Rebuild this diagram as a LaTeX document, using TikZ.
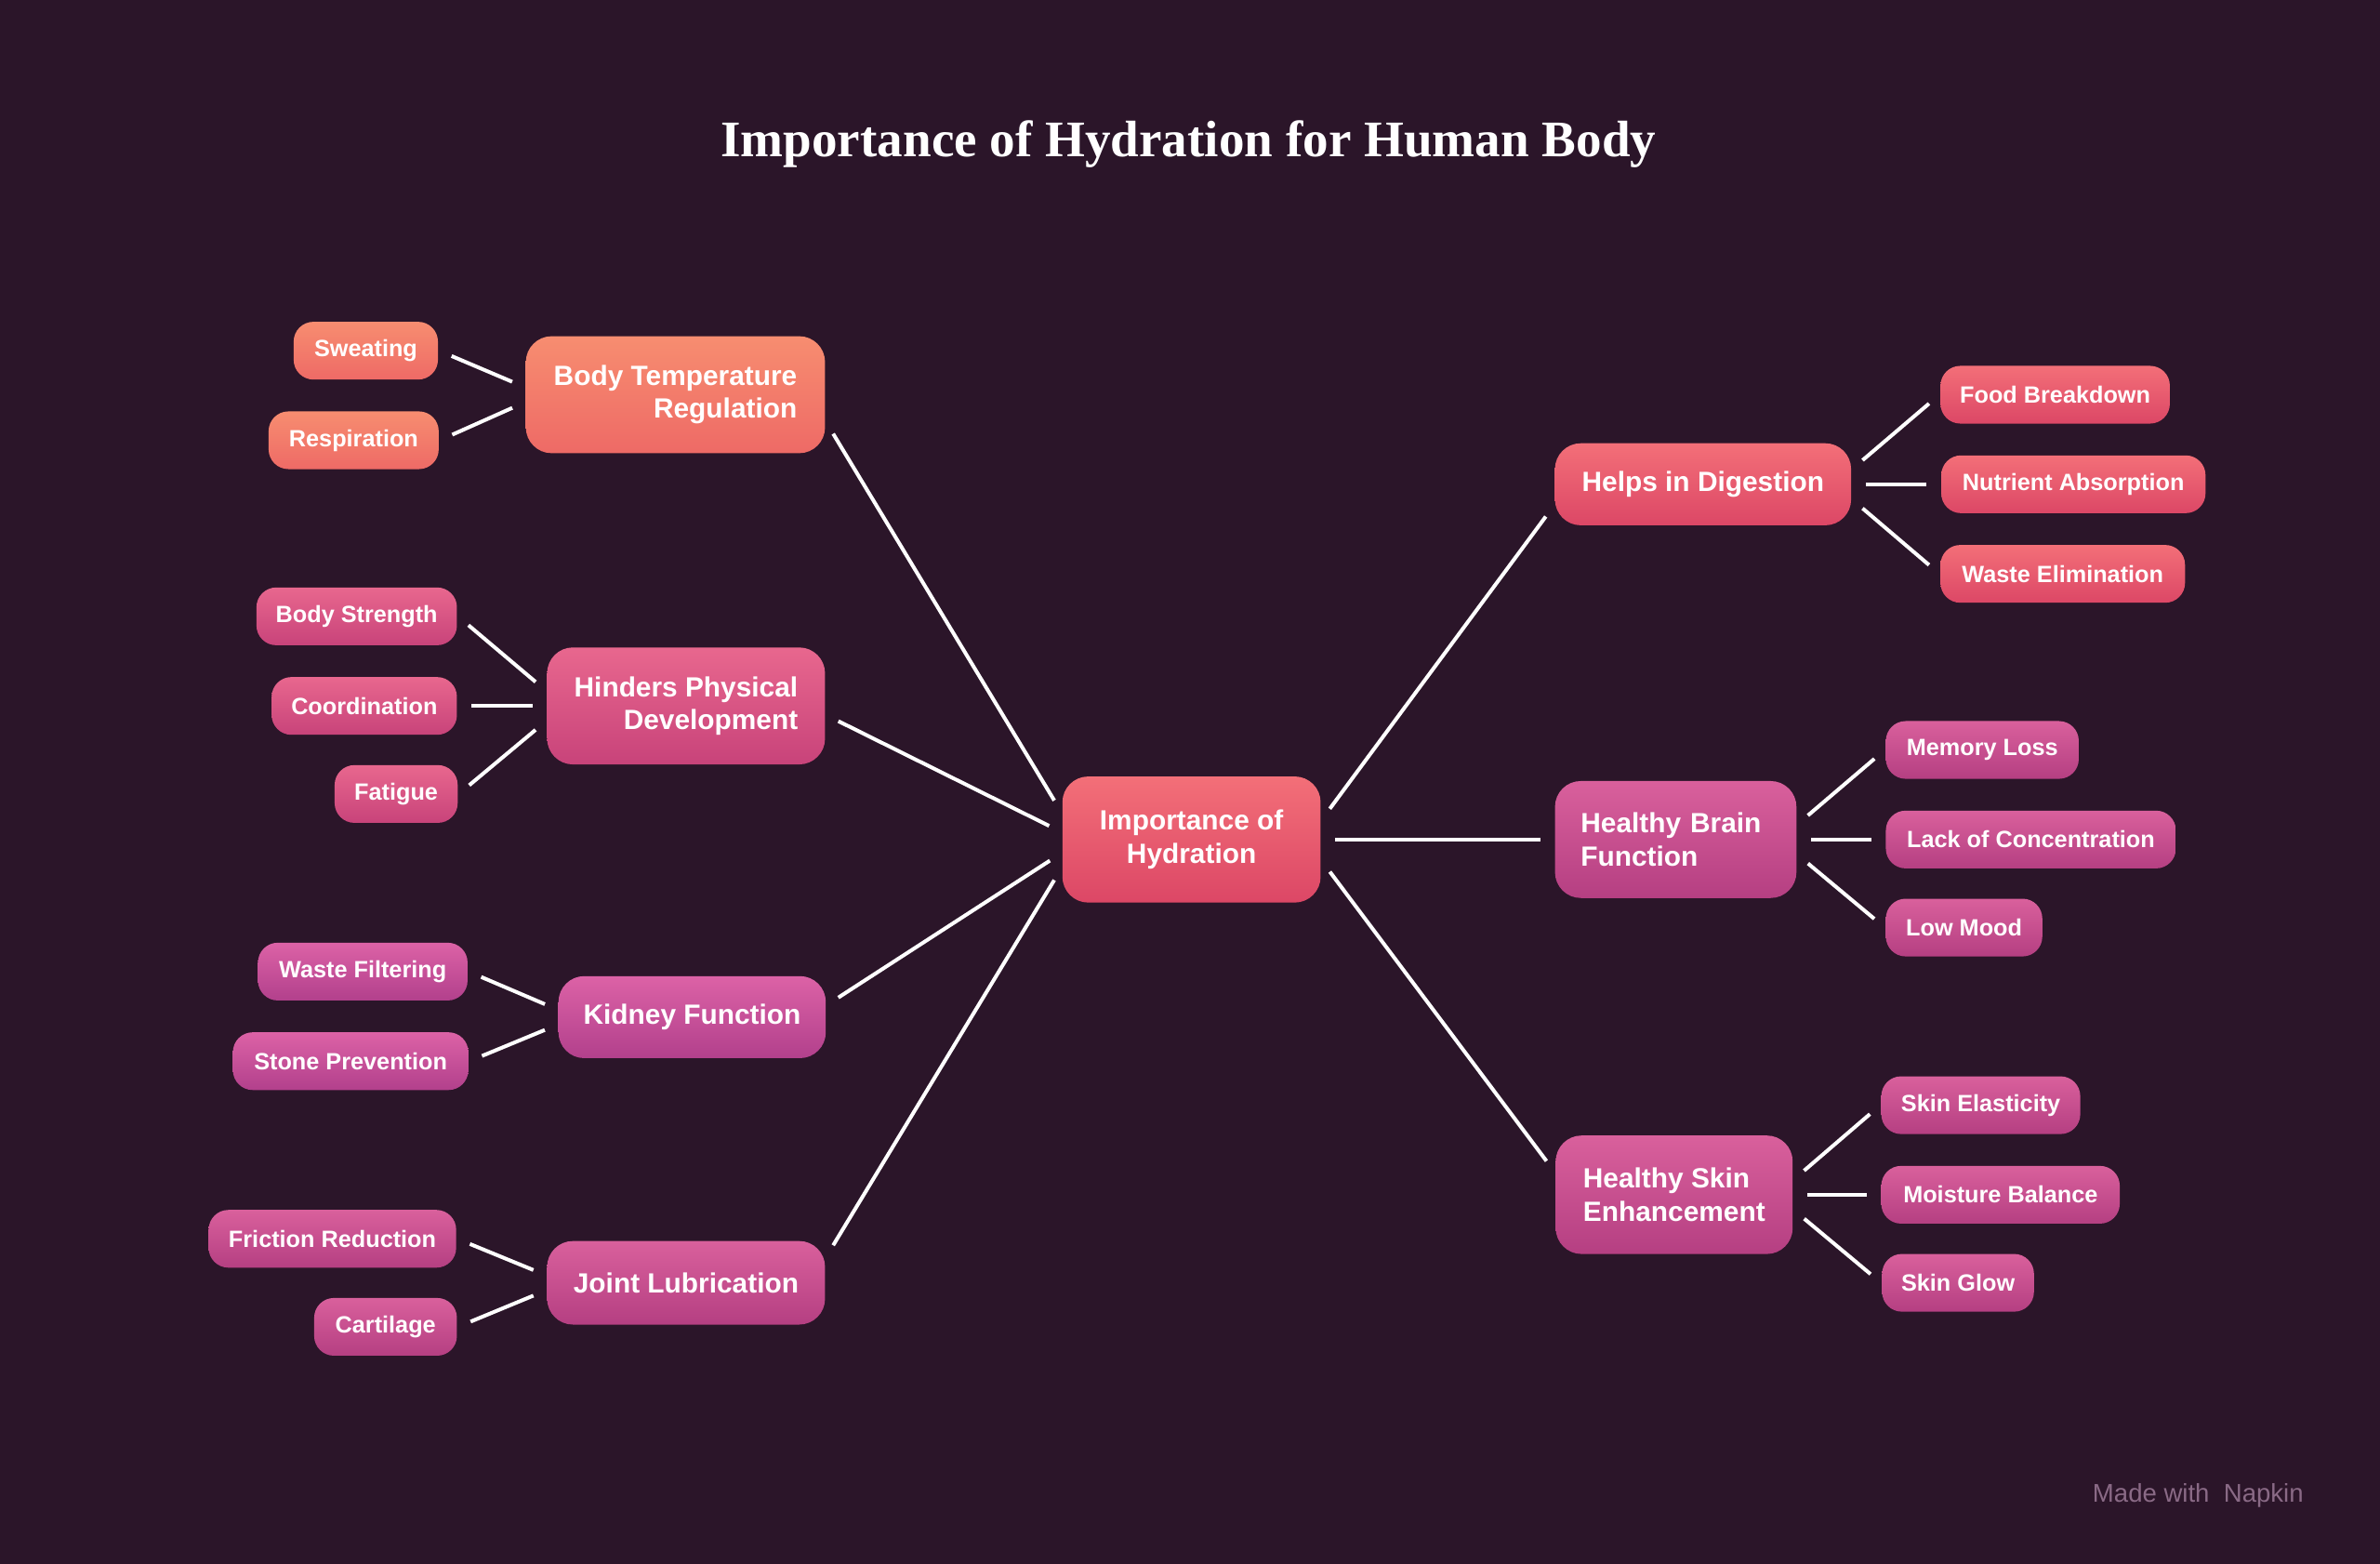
\documentclass[tikz,border=0pt]{standalone}
\usepackage{fontspec}
\setmainfont{Liberation Serif}
\setsansfont{Liberation Sans}
\usetikzlibrary{positioning,backgrounds}
\definecolor{bgdark}{HTML}{2B1529}
\definecolor{salmonT}{HTML}{F78D70}\definecolor{salmonB}{HTML}{EE6A66}
\definecolor{roseT}{HTML}{F36F78}\definecolor{roseB}{HTML}{DC4766}
\definecolor{pinkT}{HTML}{E8678E}\definecolor{pinkB}{HTML}{C8437A}
\definecolor{magT}{HTML}{DC62A6}\definecolor{magB}{HTML}{B2408C}
\definecolor{plumT}{HTML}{D9609C}\definecolor{plumB}{HTML}{B53F82}
\definecolor{napkin}{HTML}{8A6A86}
\tikzset{
  box/.style={rounded corners=0.17cm, top color=#1T, bottom color=#1B, draw=none,
    text=white, font=\sffamily\bfseries\fontsize{5.2}{6.2}\selectfont, inner sep=0pt},
  leaf/.style={box=#1, rounded corners=0.13cm, minimum height=0.38cm,
    font=\sffamily\bfseries\fontsize{4.4}{5.2}\selectfont},
  link/.style={white, line width=0.7pt, shorten <=0.09cm, shorten >=0.09cm},
}
\begin{document}
\begin{tikzpicture}[x=0.01cm,y=-0.01cm]
\fill[bgdark] (0,0) rectangle (1568,1030);
\useasboundingbox (0,0) rectangle (1568,1030);

\node[white, font=\rmfamily\bfseries\fontsize{9.6}{11}\selectfont] (title) at (783,95) {Importance of Hydration for Human Body};

% centre
\node[box=rose, minimum width=1.7cm, minimum height=0.83cm, align=center] (hyd) at (785,553) {Importance of\\Hydration};

% left branches
\node[box=salmon, minimum width=1.97cm, minimum height=0.77cm, align=right] (temp) at (445,260) {Body Temperature\\Regulation};
\node[box=pink, minimum width=1.83cm, minimum height=0.77cm, align=right] (phys) at (452,465) {Hinders Physical\\Development};
\node[box=mag, minimum width=1.76cm, minimum height=0.54cm] (kid) at (456,670) {Kidney Function};
\node[box=plum, minimum width=1.83cm, minimum height=0.55cm] (joint) at (452,845) {Joint Lubrication};

% right branches
\node[box=rose, minimum width=1.95cm, minimum height=0.54cm] (dig) at (1122,319) {Helps in Digestion};
\node[box=plum, minimum width=1.59cm, minimum height=0.77cm, align=left, text width=1.25cm] (brain) at (1104,553) {Healthy Brain\\Function};
\node[box=plum, minimum width=1.56cm, minimum height=0.78cm, align=left] (skin) at (1103,787) {Healthy Skin\\Enhancement};

% leaves
\node[leaf=salmon, minimum width=0.95cm] (sweat) at (241,231) {Sweating};
\node[leaf=salmon, minimum width=1.12cm] (resp) at (233,290) {Respiration};
\node[leaf=pink, minimum width=1.32cm] (strength) at (235,406) {Body Strength};
\node[leaf=pink, minimum width=1.22cm] (coord) at (240,465) {Coordination};
\node[leaf=pink, minimum width=0.81cm] (fat) at (261,523) {Fatigue};
\node[leaf=mag, minimum width=1.38cm] (filt) at (239,640) {Waste Filtering};
\node[leaf=mag, minimum width=1.55cm] (stone) at (231,699) {Stone Prevention};
\node[leaf=plum, minimum width=1.63cm] (fric) at (219,816) {Friction Reduction};
\node[leaf=plum, minimum width=0.94cm] (cart) at (254,874) {Cartilage};

\node[leaf=rose, minimum width=1.51cm] (food) at (1354,260) {Food Breakdown};
\node[leaf=rose, minimum width=1.74cm] (nutr) at (1366,319) {Nutrient Absorption};
\node[leaf=rose, minimum width=1.61cm] (elim) at (1359,378) {Waste Elimination};
\node[leaf=plum, minimum width=1.27cm] (mem) at (1306,494) {Memory Loss};
\node[leaf=plum, minimum width=1.91cm] (conc) at (1338,553) {Lack of Concentration};
\node[leaf=plum, minimum width=1.03cm] (mood) at (1294,611) {Low Mood};
\node[leaf=plum, minimum width=1.31cm] (elast) at (1305,728) {Skin Elasticity};
\node[leaf=plum, minimum width=1.57cm] (moist) at (1318,787) {Moisture Balance};
\node[leaf=plum, minimum width=1.00cm] (glow) at (1290,845) {Skin Glow};

% centre links
\draw[link] ([yshift=-0.18cm]temp.east) -- ([yshift=0.18cm]hyd.west);
\draw[link] ([yshift=-0.06cm]phys.east) -- ([yshift=0.05cm]hyd.west);
\draw[link] ([yshift=0.08cm]kid.east) -- ([yshift=-0.09cm]hyd.west);
\draw[link] ([yshift=0.17cm]joint.east) -- ([yshift=-0.19cm]hyd.west);
\draw[link] ([yshift=0.13cm]hyd.east) -- ([yshift=-0.14cm]dig.west);
\draw[link] (hyd.east) -- (brain.west);
\draw[link] ([yshift=-0.14cm]hyd.east) -- ([yshift=0.15cm]skin.west);

% leaf links
\draw[link] (sweat.east) -- ([yshift=0.05cm]temp.west);
\draw[link] (resp.east) -- ([yshift=-0.05cm]temp.west);
\draw[link] (strength.east) -- ([yshift=0.1cm]phys.west);
\draw[link] (coord.east) -- (phys.west);
\draw[link] (fat.east) -- ([yshift=-0.1cm]phys.west);
\draw[link] (filt.east) -- ([yshift=0.05cm]kid.west);
\draw[link] (stone.east) -- ([yshift=-0.05cm]kid.west);
\draw[link] (fric.east) -- ([yshift=0.05cm]joint.west);
\draw[link] (cart.east) -- ([yshift=-0.05cm]joint.west);

\draw[link] ([yshift=0.1cm]dig.east) -- (food.west);
\draw[link] (dig.east) -- (nutr.west);
\draw[link] ([yshift=-0.1cm]dig.east) -- (elim.west);
\draw[link] ([yshift=0.1cm]brain.east) -- (mem.west);
\draw[link] (brain.east) -- (conc.west);
\draw[link] ([yshift=-0.1cm]brain.east) -- (mood.west);
\draw[link] ([yshift=0.1cm]skin.east) -- (elast.west);
\draw[link] (skin.east) -- (moist.west);
\draw[link] ([yshift=-0.1cm]skin.east) -- (glow.west);

\node[napkin, font=\sffamily\fontsize{4.8}{5.5}\selectfont, anchor=east] (mark) at (1530,985) {Made with \ Napkin};
\end{tikzpicture}
\end{document}
